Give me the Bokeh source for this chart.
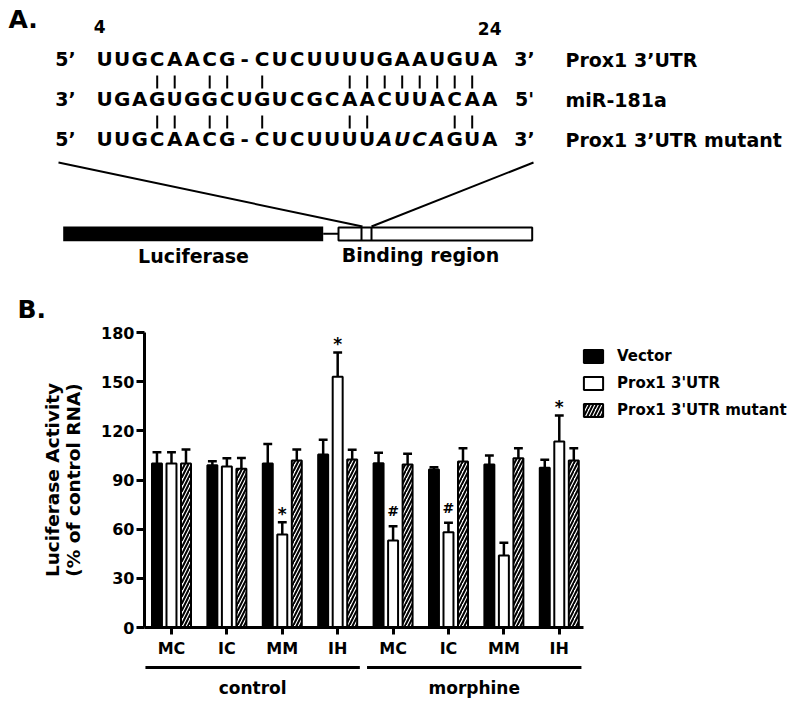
import numpy as np
from bokeh.plotting import figure
from bokeh.models import Range1d, FixedTicker, Legend, LegendItem
from bokeh.embed import file_html
from bokeh.resources import INLINE
from bokeh.core.properties import value

FONT = "DejaVu Sans"
BASE_FIX = 0.44  # svg text baseline correction (fraction of font size)

# ---------------- Panel B data ----------------
treatments = ["control", "morphine"]
conditions = ["MC", "IC", "MM", "IH", "MC", "IC", "MM", "IH"]
group_of = ["control"] * 4 + ["morphine"] * 4
series_names = ["Vector", "Prox1 3'UTR", "Prox1 3'UTR mutant"]
vector_mean = [100.0, 99.0, 100.0, 105.6, 100.2, 96.4, 99.5, 97.4]
vector_err = [7.0, 2.5, 12.0, 8.9, 6.4, 1.4, 5.4, 4.9]
utr_mean = [100.0, 98.2, 56.7, 153.0, 53.1, 58.1, 43.9, 113.5]
utr_err = [7.0, 5.0, 7.5, 14.8, 8.7, 5.8, 7.8, 15.8]
mutant_mean = [100.0, 96.8, 101.9, 102.5, 99.5, 101.3, 103.3, 101.9]
mutant_err = [8.6, 6.7, 6.7, 6.0, 6.5, 8.1, 6.1, 7.5]
utr_marks = ["", "", "*", "*", "#", "#", "", "*"]
y_ticks = [0, 30, 60, 90, 120, 150, 180]
y_label = "Luciferase Activity\n(% of control RNA)"

# ---------------- Panel A data ----------------
seq_utr = "UUGCAACG-CUCUUUUGAAUGUA"
seq_mir = "UGAGUGGCUGUCGCAACUUACAA"
seq_mut = "UUGCAACG-CUCUUUUAUCAGUA"
mut_italic = [16, 17, 18, 19]
pos_labels = ["4", "24"]
row_names = ["Prox1 3\u2019UTR", "miR-181a", "Prox1 3\u2019UTR mutant"]
left_ends = ["5\u2019", "3\u2019", "5\u2019"]
right_ends = ["3\u2019", "5'", "3\u2019"]

# ======================= Panel A (schematic) =======================
HA = 324
pa = figure(width=800, height=HA, x_range=Range1d(0, 800), y_range=Range1d(HA, 0),
            output_backend="svg", toolbar_location=None, x_axis_type=None,
            y_axis_type=None, min_border=0, outline_line_color=None)


def txt(fig, x, y, s, size, align="left", style="bold"):
    fig.text(x=[x], y=[y - BASE_FIX * size], text=[s], text_font=value(FONT),
             text_font_size=f"{size}px", text_font_style=style,
             text_align=align, text_baseline="alphabetic", text_color="black")


COL0, COLW = 104.2, 17.5
ROWS = [67, 107, 147]

txt(pa, 8, 30, "A.", 25)
txt(pa, COL0 - 5, 33, pos_labels[0], 17, align="center")
txt(pa, COL0 + 22 * COLW, 35, pos_labels[1], 17, align="center")

seqs = [seq_utr, seq_mir, seq_mut]
for r, s in enumerate(seqs):
    for i, ch in enumerate(s):
        style = "bold italic" if (r == 2 and i in mut_italic) else "bold"
        txt(pa, COL0 + i * COLW, ROWS[r], ch, 20, align="center", style=style)
    txt(pa, 65, ROWS[r], left_ends[r], 19, align="center")
    txt(pa, 524, ROWS[r], right_ends[r], 19, align="center")
    txt(pa, 565, ROWS[r] + 1, row_names[r], 19)

wc = {("A", "U"), ("U", "A"), ("G", "C"), ("C", "G")}
top_pairs = [i for i, (a, b) in enumerate(zip(seq_utr, seq_mir)) if (a, b) in wc]
bot_pairs = [i for i, (a, b) in enumerate(zip(seq_mut, seq_mir)) if (a, b) in wc]
pa.segment(x0=[COL0 + i * COLW for i in top_pairs], y0=[75] * len(top_pairs),
           x1=[COL0 + i * COLW for i in top_pairs], y1=[88] * len(top_pairs),
           line_color="black", line_width=2)
pa.segment(x0=[COL0 + i * COLW for i in bot_pairs], y0=[115] * len(bot_pairs),
           x1=[COL0 + i * COLW for i in bot_pairs], y1=[128] * len(bot_pairs),
           line_color="black", line_width=2)

# zoom lines
pa.segment(x0=[58, 533], y0=[162, 162], x1=[362, 371], y1=[226, 226],
           line_color="black", line_width=2)
# construct
pa.quad(left=[62.7], right=[322.7], top=[226], bottom=[240.7], fill_color="black", line_color=None)
pa.segment(x0=[322.7], y0=[233.3], x1=[338], y1=[233.3], line_color="black", line_width=2)
pa.quad(left=[338], right=[531.7], top=[227], bottom=[240], fill_color="white",
        line_color="black", line_width=2)
pa.segment(x0=[361, 371], y0=[227, 227], x1=[361, 371], y1=[240, 240],
           line_color="black", line_width=2)
txt(pa, 193, 264, "Luciferase", 19, align="center")
txt(pa, 420, 263, "Binding region", 19, align="center")
txt(pa, 17, 320, "B.", 25)

# ======================= Panel B (bar chart) =======================
PX_PER_UNIT = 55.4
X_LEFT, X_AXIS_END = -0.487, 7.437
x_right = X_LEFT + (800 - 144) / PX_PER_UNIT
p = figure(width=800, height=660 - HA, x_range=Range1d(X_LEFT, x_right), y_range=Range1d(0, 180),
           output_backend="svg", toolbar_location=None,
           min_border_left=144, min_border_right=0, min_border_top=332 - HA, min_border_bottom=33)
p.outline_line_color = None
p.grid.visible = False

x = np.arange(len(conditions))
offsets = [-0.262, 0.0, 0.262]
bar_w = 0.18
means = [vector_mean, utr_mean, mutant_mean]
errs = [vector_err, utr_err, mutant_err]
styles = [dict(fill_color="black"),
          dict(fill_color="white"),
          dict(fill_color="white", hatch_pattern="/", hatch_color="black",
               hatch_weight=2, hatch_scale=7)]
renderers = []
for k in range(3):
    xk = x + offsets[k]
    r = p.vbar(x=xk, top=means[k], width=bar_w, bottom=0, line_color="black",
               line_width=2, **styles[k])
    renderers.append(r)
    top = np.array(means[k]) + np.array(errs[k])
    p.segment(x0=xk, y0=means[k], x1=xk, y1=top, line_color="black", line_width=2.5)
    p.segment(x0=xk - 0.08, y0=top, x1=xk + 0.08, y1=top, line_color="black", line_width=2.5)

mark_size = {"*": 17, "#": 14}
mark_off = {"*": -1, "#": -9}
utr_top = np.array(utr_mean) + np.array(utr_err)
for i, m in enumerate(utr_marks):
    if m:
        p.text(x=[x[i] + offsets[1]], y=[utr_top[i]], text=[m], text_font=value(FONT),
               text_font_size=f"{mark_size[m]}px", text_font_style="bold", text_align="center",
               text_baseline="alphabetic", y_offset=mark_off[m] - BASE_FIX * mark_size[m])

# axes
p.yaxis.ticker = FixedTicker(ticks=y_ticks, minor_ticks=[])
p.xaxis.ticker = FixedTicker(ticks=list(x), minor_ticks=[])
p.xaxis.bounds = (X_LEFT, X_AXIS_END)
p.xaxis.major_label_overrides = {int(i): c for i, c in zip(x, conditions)}
for ax in (p.xaxis[0], p.yaxis[0]):
    ax.axis_line_width = 3
    ax.axis_line_color = "black"
    ax.major_tick_line_width = 3
    ax.major_tick_line_color = "black"
    ax.major_tick_in = 0
    ax.major_tick_out = 8
    ax.minor_tick_line_color = None
    ax.major_label_text_font = FONT
    ax.major_label_text_font_size = "16px"
    ax.major_label_text_font_style = "bold"
    ax.major_label_text_color = "black"
p.xaxis.major_tick_out = 7
p.xaxis.major_label_standoff = 4
p.yaxis.major_label_standoff = 2
p.yaxis.axis_label = y_label
p.yaxis.axis_label_text_font = FONT
p.yaxis.axis_label_text_font_size = "18.5px"
p.yaxis.axis_label_text_font_style = "bold"
p.yaxis.axis_label_text_color = "black"
p.yaxis.axis_label_text_line_height = 1.0
p.yaxis.axis_label_standoff = 14

legend = Legend(items=[LegendItem(label=n, renderers=[r]) for n, r in zip(series_names, renderers)],
                location=(581 - 144, 208), orientation="vertical", glyph_width=24, glyph_height=16,
                label_height=18, spacing=9, label_standoff=12, padding=0, margin=0,
                border_line_color=None, background_fill_alpha=0,
                label_text_font=FONT, label_text_font_style="bold", label_text_font_size="15px",
                label_text_color="black")
p.add_layout(legend)

# ======================= group brackets =======================
pc = figure(width=800, height=706 - 660, x_range=p.x_range, y_range=Range1d(706, 660),
            output_backend="svg", toolbar_location=None, x_axis_type=None, y_axis_type=None,
            min_border_left=144, min_border_right=0, min_border_top=0, min_border_bottom=0,
            outline_line_color=None)
for t in treatments:
    idx = [i for i, g in enumerate(group_of) if g == t]
    x0, x1 = min(idx) - 0.47, max(idx) + 0.40
    pc.segment(x0=[x0], y0=[667], x1=[x1], y1=[667], line_color="black", line_width=3)
    pc.text(x=[(x0 + x1) / 2], y=[695 - BASE_FIX * 17], text=[t], text_font=value(FONT),
            text_font_size="17px", text_font_style="bold", text_align="center",
            text_baseline="alphabetic")

open("out.html", "w").write(file_html([pa, p, pc], INLINE))
